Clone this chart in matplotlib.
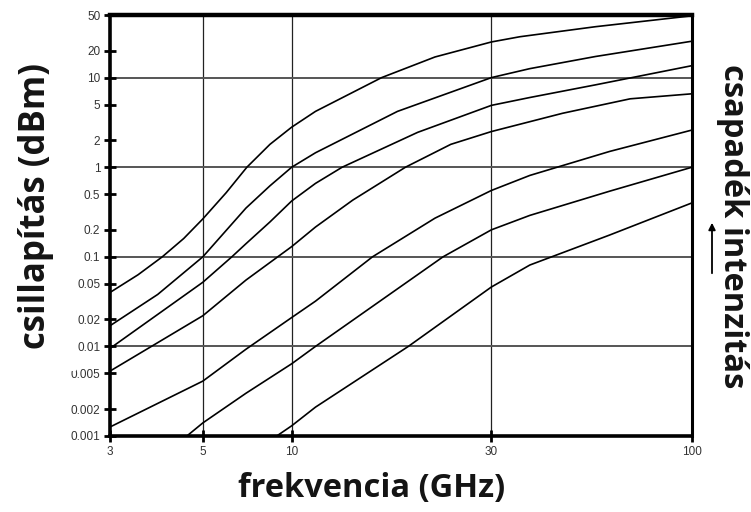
import numpy as np
import matplotlib
matplotlib.use("Agg")
import matplotlib.pyplot as plt
from matplotlib.ticker import FixedLocator, FixedFormatter, NullLocator

# frequency axis of the printed chart is not evenly logarithmic,
# these anchors give the relative spacing of its labelled ticks
x_ticks = [3, 5, 10, 30, 100]
x_anchor = [0, 93, 182, 382, 583]

y_ticks = [50, 20, 10, 5, 2, 1, 0.5, 0.2, 0.1, 0.05, 0.02, 0.01, 0.005, 0.002, 0.001]
y_labels = ["50", "20", "10", "5", "2", "1", "0.5", "0.2", "0.1", "0.05",
            "0.02", "0.01", "0.005", "0.002", "0.001"]
grid_x = [5, 10, 30]
grid_y = [10, 1, 0.1, 0.01]

# attenuation curves, strongest rain first
freq_1 = [3, 3.5, 4, 4.5, 5, 6, 7.05, 8.44, 10, 11.4, 16.4, 22, 30, 35.6, 56, 100]
att_1 = [0.04, 0.063, 0.1, 0.16, 0.265, 0.52, 1.0, 1.8, 2.8, 4.2, 10, 17, 25, 28.6, 37, 49]

freq_2 = [3, 3.9, 5, 7, 8.44, 10, 11.4, 17.9, 30, 37.8, 56, 100]
att_2 = [0.017, 0.038, 0.1, 0.35, 0.62, 1.0, 1.45, 4.2, 10, 12.6, 17.2, 25.5]

freq_3 = [3, 5, 6.27, 7, 8.44, 10, 11.4, 13.2, 20, 30, 37.8, 56, 100]
att_3 = [0.0095, 0.052, 0.1, 0.14, 0.245, 0.42, 0.66, 1.0, 2.45, 4.9, 6.0, 8.3, 13.6]

freq_4 = [3, 5, 7, 10, 11.4, 14, 18.7, 24, 30, 46, 69, 100]
att_4 = [0.0053, 0.022, 0.055, 0.13, 0.215, 0.43, 1.0, 1.8, 2.5, 4.0, 5.8, 6.6]

freq_5 = [3, 5, 7, 10, 11.4, 15.6, 22, 30, 37.8, 61, 100]
att_5 = [0.00126, 0.0041, 0.0093, 0.021, 0.032, 0.1, 0.27, 0.55, 0.81, 1.5, 2.6]

freq_6 = [4.58, 5, 7, 10, 11.4, 23, 30, 37.8, 61, 100]
att_6 = [0.001, 0.0014, 0.003, 0.0064, 0.01, 0.1, 0.2, 0.29, 0.54, 1.0]

freq_7 = [8.9, 10, 11.4, 19, 30, 37.8, 61, 100]
att_7 = [0.001, 0.0013, 0.0021, 0.01, 0.046, 0.081, 0.175, 0.4]

curves = [(freq_1, att_1), (freq_2, att_2), (freq_3, att_3), (freq_4, att_4),
          (freq_5, att_5), (freq_6, att_6), (freq_7, att_7)]

log_ticks = np.log10(x_ticks)


def fwd(x):
    lx = np.log10(np.clip(np.asarray(x, dtype=float), 1e-6, None))
    return np.interp(lx, log_ticks, x_anchor)


def inv(p):
    return 10 ** np.interp(np.asarray(p, dtype=float), x_anchor, log_ticks)


fig = plt.figure(figsize=(7.51, 5.12), dpi=100)
ax = fig.add_axes([110 / 751, 76 / 512, 582 / 751, 421 / 512])

ax.set_xscale("function", functions=(fwd, inv))
ax.set_yscale("log")
ax.set_xlim(3, 100)
ax.set_ylim(0.001, 50)

for v in grid_x:
    ax.axvline(v, color="#222222", lw=0.9, zorder=1)
for v in grid_y:
    ax.axhline(v, color="#555555", lw=1.4, zorder=1)

for f, a in curves:
    ax.plot(f, a, color="black", lw=1.2, zorder=3, solid_joinstyle="round")

tick_font = ["Liberation Sans Narrow", "Liberation Sans", "DejaVu Sans"]
ax.xaxis.set_major_locator(FixedLocator(x_ticks))
ax.xaxis.set_major_formatter(FixedFormatter([str(t) for t in x_ticks]))
ax.xaxis.set_minor_locator(NullLocator())
ax.yaxis.set_major_locator(FixedLocator(y_ticks))
ax.yaxis.set_major_formatter(FixedFormatter(y_labels))
ax.yaxis.set_minor_locator(NullLocator())
ax.tick_params(direction="inout", length=8, width=2, color="black",
               labelsize=8.5, labelcolor="#333333", pad=3)
for lab in ax.get_xticklabels() + ax.get_yticklabels():
    lab.set_family(tick_font)

for side, w in [("left", 2.6), ("bottom", 2.6), ("top", 3.2), ("right", 2.2)]:
    ax.spines[side].set_linewidth(w)
    ax.spines[side].set_color("black")

title_font = dict(family=["Open Sans", "DejaVu Sans"], fontweight="bold", color="#141414")

fig.text(372 / 751, 1 - 488 / 512, "frekvencia (GHz)", ha="center", va="center",
         fontsize=23.5, **title_font)
# white box behind the left title hides the front of some tick labels, as in the print
fig.text(36 / 751, 1 - 206 / 512, "csillapítás (dBm)", rotation=90,
         ha="center", va="center", fontsize=25, **title_font,
         bbox=dict(facecolor="white", edgecolor="none", pad=16))
fig.text(733 / 751, 1 - 226 / 512, "csapadék intenzitás", rotation=-90,
         ha="center", va="center", fontsize=23.5, **title_font)
ax.annotate("", xy=(712 / 751, 1 - 220 / 512), xytext=(712 / 751, 1 - 276 / 512),
            xycoords="figure fraction", textcoords="figure fraction",
            arrowprops=dict(arrowstyle="-|>", color="black", lw=1.3,
                            mutation_scale=10))

fig.savefig("out.png", dpi=100)
